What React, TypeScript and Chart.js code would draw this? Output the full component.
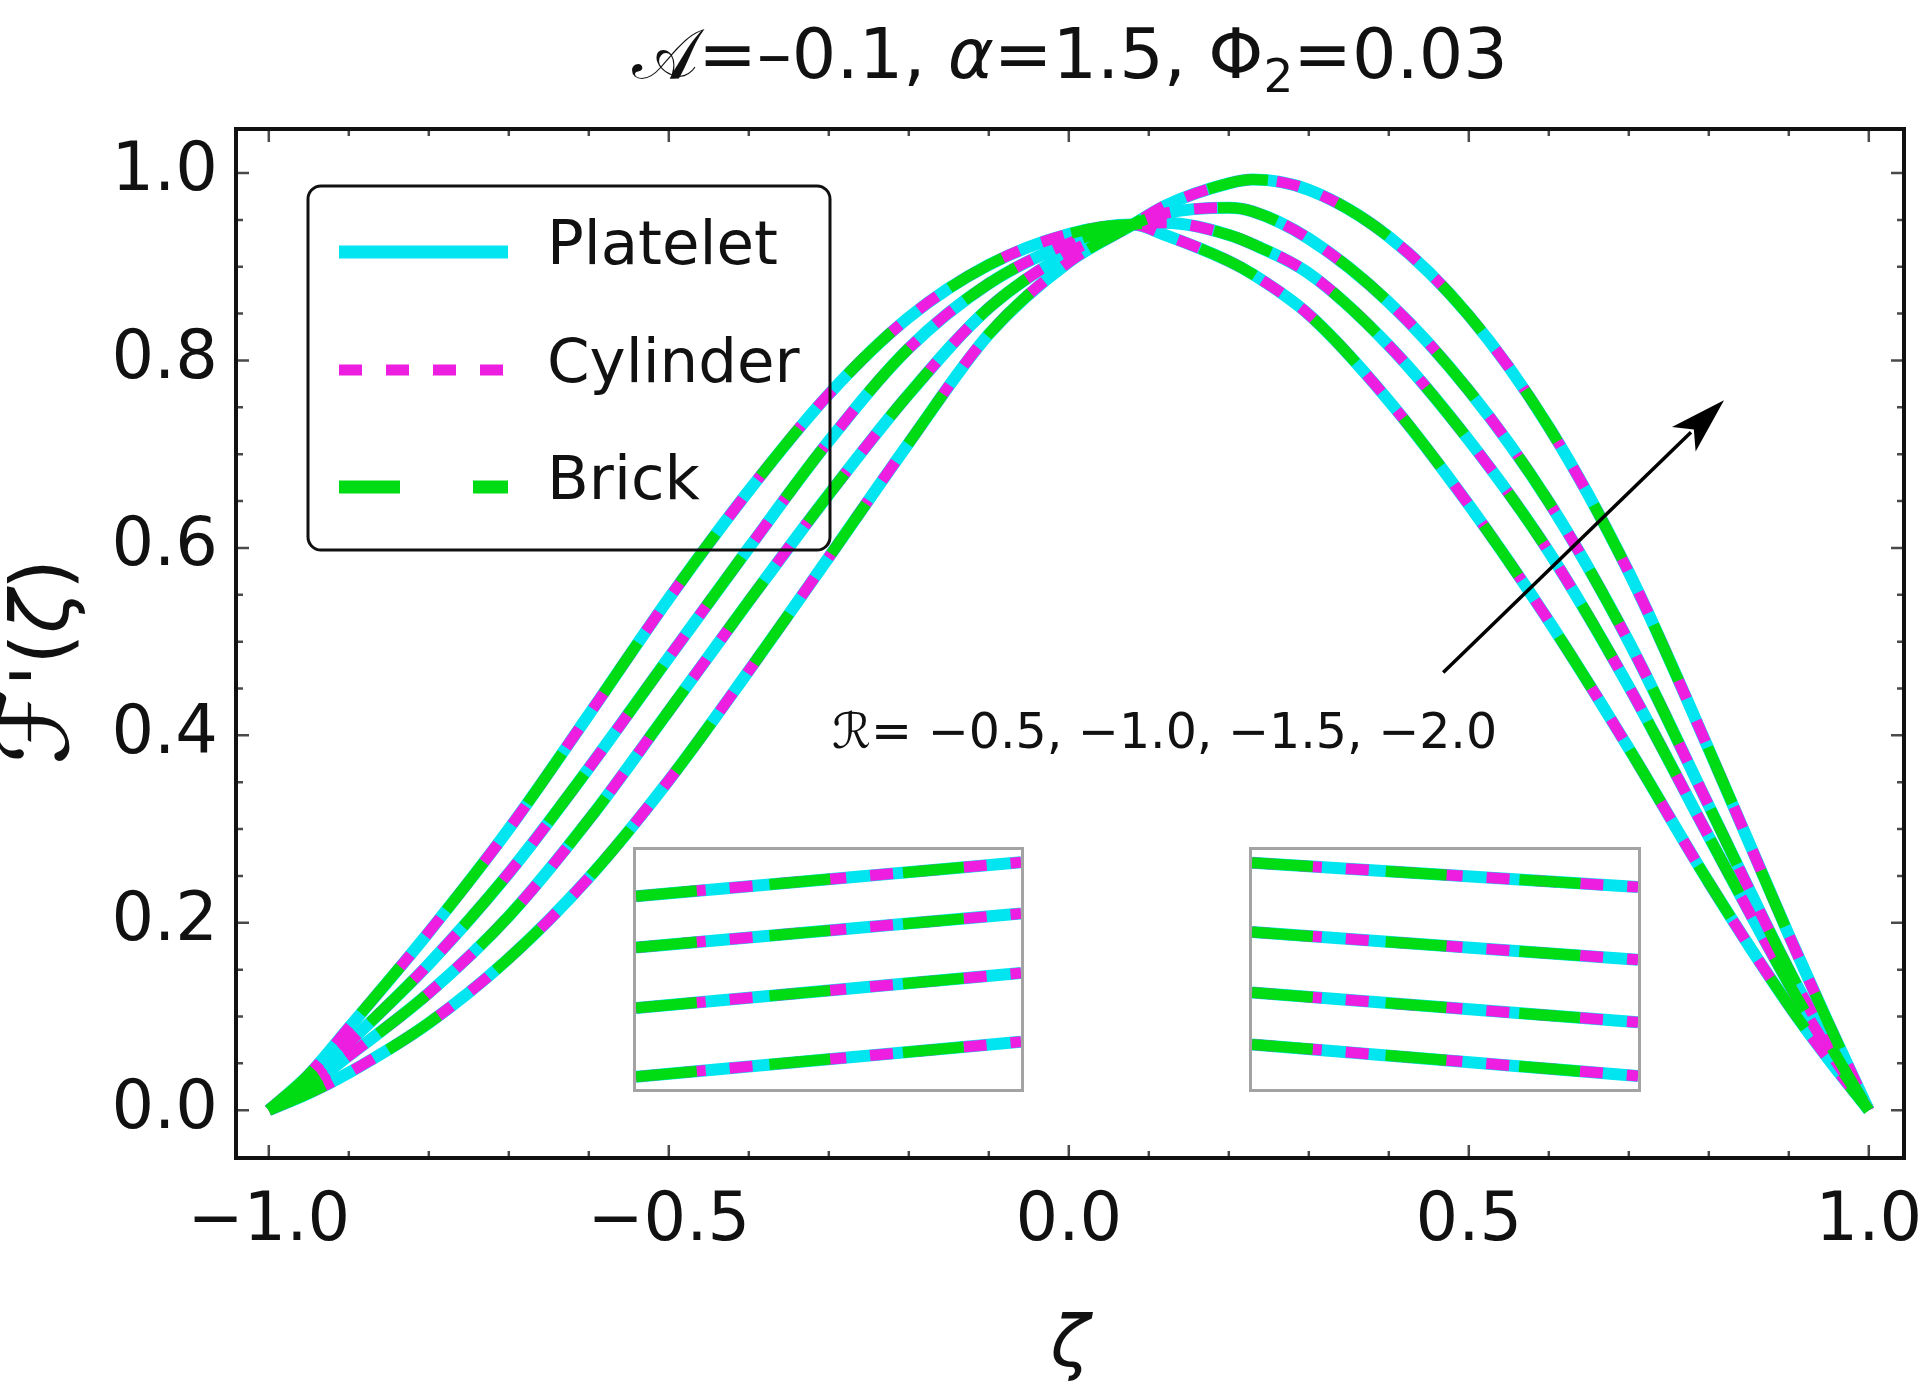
import { useEffect, useRef } from "react";
import { Chart, registerables } from "chart.js";

Chart.register(...registerables);

const W = 1928;
const H = 1394;
const FONT = '"DejaVu Sans", "Liberation Sans", sans-serif';

// sample positions along zeta
const zeta = [-1, -0.95, -0.9, -0.8, -0.7, -0.6, -0.5, -0.4, -0.3, -0.2, -0.1, 0, 0.08, 0.12, 0.2, 0.23, 0.3, 0.4, 0.5, 0.6, 0.7, 0.8, 0.9, 0.95, 1];

// F'(zeta), one list per R (the three shapes overlap)
const fR05 = [0, 0.038, 0.088, 0.19, 0.3, 0.422, 0.546, 0.661, 0.764, 0.846, 0.902, 0.935, 0.945, 0.934, 0.906, 0.892, 0.849, 0.757, 0.646, 0.522, 0.386, 0.243, 0.112, 0.054, 0];
const fR10 = [0, 0.032, 0.072, 0.156, 0.253, 0.365, 0.483, 0.6, 0.714, 0.813, 0.882, 0.925, 0.945, 0.947, 0.934, 0.924, 0.893, 0.816, 0.715, 0.596, 0.452, 0.292, 0.135, 0.064, 0];
const fR15 = [0, 0.026, 0.058, 0.125, 0.207, 0.31, 0.426, 0.543, 0.657, 0.764, 0.856, 0.915, 0.945, 0.957, 0.963, 0.959, 0.93, 0.862, 0.768, 0.649, 0.5, 0.325, 0.15, 0.072, 0];
const fR20 = [0, 0.018, 0.04, 0.093, 0.162, 0.248, 0.352, 0.469, 0.59, 0.712, 0.828, 0.905, 0.945, 0.965, 0.989, 0.993, 0.982, 0.932, 0.848, 0.729, 0.574, 0.385, 0.187, 0.092, 0];

const rValues = ["-0.5", "-1.0", "-1.5", "-2.0"];
const rSeries = [fR05, fR10, fR15, fR20];
const shapes = ["Platelet", "Cylinder", "Brick"];

// inset close-ups: F' at the left and right edge of each window, per R
const insetLeftStart = [0.765, 0.715, 0.656, 0.589];
const insetLeftEnd = [0.798, 0.748, 0.69, 0.623];
const insetRightStart = [0.6135, 0.664, 0.723, 0.7906];
const insetRightEnd = [0.5827, 0.635, 0.696, 0.7668];

const xTicks = [-1, -0.5, 0, 0.5, 1];
const yTicks = [0, 0.2, 0.4, 0.6, 0.8, 1];
const xMinor = [-1, -0.9, -0.8, -0.7, -0.6, -0.5, -0.4, -0.3, -0.2, -0.1, 0, 0.1, 0.2, 0.3, 0.4, 0.5, 0.6, 0.7, 0.8, 0.9, 1];
const yMinor = [0, 0.05, 0.1, 0.15, 0.2, 0.25, 0.3, 0.35, 0.4, 0.45, 0.5, 0.55, 0.6, 0.65, 0.7, 0.75, 0.8, 0.85, 0.9, 0.95, 1];

const xRange = [-1.041, 1.044];
const yRange = [-0.051, 1.047];

// annotation anchors in data units
const arrowFrom = [0.468, 0.467];
const arrowTo = [0.819, 0.7575];
const labelAt = [-0.296, 0.4];

// insets: where they sit on the main plot and the window they show
const insetLeftBox = { zeta: [-0.5445, -0.0558], f: [0.0192, 0.2808] };
const insetRightBox = { zeta: [0.2255, 0.7155], f: [0.0192, 0.2808] };
const insetLeftWindow = { zeta: [-0.315, -0.285], f: [0.577, 0.81] };
const insetRightWindow = { zeta: [0.539, 0.561], f: [0.57, 0.803] };

const shapeStyles: Record<string, { color: string; width: number; dash: number[]; order: number }> = {
  Platelet: { color: "#00e5ef", width: 12, dash: [], order: 2 },
  Cylinder: { color: "#ee1ee0", width: 11, dash: [23, 24], order: 1 },
  Brick: { color: "#00dc14", width: 11, dash: [61, 73], order: 0 },
};

function fmtTick(v: number) {
  const s = Math.abs(v).toFixed(1);
  return v < 0 ? "\u2212" + s : s;
}

function styleFor(shape: string) {
  const st = shapeStyles[shape];
  return {
    label: shape,
    order: st.order,
    borderColor: st.color,
    borderWidth: st.width,
    borderDash: st.dash,
    borderCapStyle: "butt",
    borderJoinStyle: "round",
    pointRadius: 0,
    fill: false,
  };
}

function makeDatasets() {
  const out: any[] = [];
  shapes.forEach((shape) => {
    rSeries.forEach((series, k) => {
      out.push({
        ...styleFor(shape),
        rLabel: rValues[k],
        data: zeta.map((z, i) => ({ x: z, y: series[i] })),
        cubicInterpolationMode: "monotone",
      });
    });
  });
  return out;
}

function makeInsetDatasets(win: { zeta: number[] }, starts: number[], ends: number[]) {
  const out: any[] = [];
  shapes.forEach((shape) => {
    starts.forEach((s, k) => {
      out.push({
        ...styleFor(shape),
        data: [
          { x: win.zeta[0], y: s },
          { x: win.zeta[1], y: ends[k] },
        ],
        tension: 0,
      });
    });
  });
  return out;
}

type Run = { text: string; font: string; dy?: number };

function runsWidth(ctx: CanvasRenderingContext2D, runs: Run[]) {
  let w = 0;
  for (const r of runs) {
    ctx.font = r.font;
    w += ctx.measureText(r.text).width;
  }
  return w;
}

function drawRuns(ctx: CanvasRenderingContext2D, runs: Run[], x: number, y: number) {
  let cx = x;
  for (const r of runs) {
    ctx.font = r.font;
    ctx.fillText(r.text, cx, y + (r.dy || 0));
    cx += ctx.measureText(r.text).width;
  }
}

const framePlugin = {
  id: "frame",
  afterDatasetsDraw(chart: any) {
    const { ctx, chartArea: ca, scales } = chart;
    const sx = scales.x;
    const sy = scales.y;
    ctx.save();
    ctx.strokeStyle = "#4a4a4a";
    ctx.lineWidth = 2.5;
    ctx.beginPath();
    xMinor.forEach((v) => {
      const px = sx.getPixelForValue(v);
      const len = xTicks.includes(v) ? 13 : 7;
      ctx.moveTo(px, ca.bottom);
      ctx.lineTo(px, ca.bottom - len);
      ctx.moveTo(px, ca.top);
      ctx.lineTo(px, ca.top + len);
    });
    yMinor.forEach((v) => {
      const py = sy.getPixelForValue(v);
      const len = yTicks.some((t) => Math.abs(t - v) < 1e-9) ? 13 : 7;
      ctx.moveTo(ca.left, py);
      ctx.lineTo(ca.left + len, py);
      ctx.moveTo(ca.right, py);
      ctx.lineTo(ca.right - len, py);
    });
    ctx.stroke();
    ctx.strokeStyle = "#111";
    ctx.lineWidth = 4;
    ctx.strokeRect(ca.left, ca.top, ca.right - ca.left, ca.bottom - ca.top);
    ctx.restore();
  },
};

const legendPlugin = {
  id: "boxLegend",
  afterDatasetsDraw(chart: any) {
    const { ctx, chartArea: ca } = chart;
    const bx = ca.left + 72;
    const by = ca.top + 57;
    const bw = 522;
    const bh = 364;
    ctx.save();
    ctx.strokeStyle = "#111";
    ctx.lineWidth = 3;
    ctx.beginPath();
    ctx.roundRect(bx, by, bw, bh, 13);
    ctx.stroke();
    const rows = [66, 184, 301];
    shapes.forEach((shape, i) => {
      const ds = chart.data.datasets.find((d: any) => d.label === shape);
      const y = by + rows[i];
      ctx.save();
      ctx.strokeStyle = ds.borderColor;
      ctx.lineWidth = shape === "Cylinder" ? 11 : 13;
      ctx.lineCap = "butt";
      ctx.setLineDash(ds.borderDash);
      ctx.beginPath();
      ctx.moveTo(bx + 31, y);
      ctx.lineTo(bx + 200, y);
      ctx.stroke();
      ctx.restore();
      ctx.fillStyle = "#111";
      ctx.font = `61px ${FONT}`;
      ctx.textBaseline = "alphabetic";
      ctx.textAlign = "left";
      ctx.fillText(shape, bx + 239, y + 12);
    });
    ctx.restore();
  },
};

const textPlugin = {
  id: "figureText",
  afterDraw(chart: any) {
    const { ctx, chartArea: ca, scales } = chart;
    const sx = scales.x;
    const sy = scales.y;
    ctx.save();
    ctx.fillStyle = "#111";
    ctx.textAlign = "left";
    ctx.textBaseline = "alphabetic";

    // title
    const tf = `70px ${FONT}`;
    const title: Run[] = [
      { text: "\u{1D49C}", font: tf },
      { text: "=\u20130.1, ", font: tf },
      { text: "\u03B1", font: `italic 70px ${FONT}` },
      { text: "=1.5, \u03A6", font: tf },
      { text: "2", font: `47px ${FONT}`, dy: 14 },
      { text: "=0.03", font: tf },
    ];
    const tw = runsWidth(ctx, title);
    drawRuns(ctx, title, (ca.left + ca.right) / 2 - tw / 2, 78);

    // x axis title
    const xr: Run[] = [{ text: "\u03B6", font: `italic 72px ${FONT}` }];
    const xw = runsWidth(ctx, xr);
    drawRuns(ctx, xr, (ca.left + ca.right) / 2 - xw / 2, 1366);

    // y axis title
    ctx.save();
    ctx.translate(68, 662);
    ctx.rotate(-Math.PI / 2);
    const yf = `80px ${FONT}`;
    const yr: Run[] = [
      { text: "\u2131", font: `100px ${FONT}` },
      { text: "'(", font: yf },
      { text: "\u03B6", font: `italic 80px ${FONT}` },
      { text: ")", font: yf },
    ];
    const yw = runsWidth(ctx, yr);
    drawRuns(ctx, yr, -yw / 2, 0);
    ctx.restore();

    // R annotation
    ctx.textBaseline = "middle";
    const af = `49px ${FONT}`;
    const ar: Run[] = [
      { text: "\u211B", font: af },
      { text: "= \u22120.5, \u22121.0, \u22121.5, \u22122.0", font: af },
    ];
    drawRuns(ctx, ar, sx.getPixelForValue(labelAt[0]), sy.getPixelForValue(labelAt[1]));

    // arrow
    const x0 = sx.getPixelForValue(arrowFrom[0]);
    const y0 = sy.getPixelForValue(arrowFrom[1]);
    const x1 = sx.getPixelForValue(arrowTo[0]);
    const y1 = sy.getPixelForValue(arrowTo[1]);
    const a = Math.atan2(y1 - y0, x1 - x0);
    const c = Math.cos(a);
    const s = Math.sin(a);
    const hl = 56;
    const hw = 17;
    const bxp = x1 - hl * c;
    const byp = y1 - hl * s;
    ctx.strokeStyle = "#000";
    ctx.lineWidth = 3.5;
    ctx.beginPath();
    ctx.moveTo(x0, y0);
    ctx.lineTo(bxp + 10 * c, byp + 10 * s);
    ctx.stroke();
    ctx.fillStyle = "#000";
    ctx.beginPath();
    ctx.moveTo(x1, y1);
    ctx.lineTo(bxp - hw * s, byp + hw * c);
    ctx.lineTo(bxp + 14 * c, byp + 14 * s);
    ctx.lineTo(bxp + hw * s, byp - hw * c);
    ctx.closePath();
    ctx.fill();
    ctx.restore();
  },
};

function insetConfig(win: { zeta: number[]; f: number[] }, starts: number[], ends: number[]): any {
  return {
    type: "line",
    data: { datasets: makeInsetDatasets(win, starts, ends) },
    options: {
      responsive: false,
      animation: false,
      events: [],
      layout: { padding: 0 },
      plugins: { legend: { display: false }, tooltip: { enabled: false } },
      scales: {
        x: { type: "linear", display: false, min: win.zeta[0], max: win.zeta[1] },
        y: { type: "linear", display: false, min: win.f[0], max: win.f[1] },
      },
    },
  };
}

export default function App() {
  const mainRef = useRef<HTMLCanvasElement>(null);
  const leftBoxRef = useRef<HTMLDivElement>(null);
  const leftRef = useRef<HTMLCanvasElement>(null);
  const rightBoxRef = useRef<HTMLDivElement>(null);
  const rightRef = useRef<HTMLCanvasElement>(null);

  useEffect(() => {
    document.body.style.margin = "0";
    document.body.style.overflow = "hidden";
    if (!mainRef.current) return;

    const tickFont = { family: FONT, size: 67 };
    const chart = new Chart(mainRef.current, {
      type: "line",
      data: { datasets: makeDatasets() },
      options: {
        responsive: false,
        animation: false,
        events: [],
        layout: { padding: { left: 0, right: 24, top: 129, bottom: 0 } },
        plugins: {
          legend: { display: false },
          tooltip: { enabled: false },
          title: { display: false },
        },
        scales: {
          x: {
            type: "linear",
            min: xRange[0],
            max: xRange[1],
            grid: { display: false, drawTicks: false },
            border: { display: false },
            afterFit: (s: any) => {
              s.height = 236;
              s.paddingLeft = 0;
              s.paddingRight = 0;
            },
            afterBuildTicks: (s: any) => {
              s.ticks = xTicks.map((v) => ({ value: v }));
            },
            ticks: {
              padding: 24,
              color: "#111",
              font: tickFont,
              maxRotation: 0,
              autoSkip: false,
              callback: (v: any) => fmtTick(Number(v)),
            },
          },
          y: {
            type: "linear",
            min: yRange[0],
            max: yRange[1],
            grid: { display: false, drawTicks: false },
            border: { display: false },
            afterFit: (s: any) => {
              s.width = 236;
              s.paddingTop = 0;
              s.paddingBottom = 0;
            },
            afterBuildTicks: (s: any) => {
              s.ticks = yTicks.map((v) => ({ value: v }));
            },
            ticks: {
              padding: 18,
              color: "#111",
              font: tickFont,
              autoSkip: false,
              callback: (v: any) => fmtTick(Number(v)),
            },
          },
        },
      } as any,
      plugins: [framePlugin, legendPlugin, textPlugin],
    });

    const charts: Chart[] = [chart];
    const sx: any = chart.scales.x;
    const sy: any = chart.scales.y;
    const place = (
      box: { zeta: number[]; f: number[] },
      div: HTMLDivElement | null,
      cv: HTMLCanvasElement | null,
      win: { zeta: number[]; f: number[] },
      starts: number[],
      ends: number[]
    ) => {
      if (!div || !cv) return;
      const l = sx.getPixelForValue(box.zeta[0]);
      const r = sx.getPixelForValue(box.zeta[1]);
      const t = sy.getPixelForValue(box.f[1]);
      const b = sy.getPixelForValue(box.f[0]);
      const bw = 3;
      div.style.left = `${l}px`;
      div.style.top = `${t}px`;
      div.style.width = `${r - l}px`;
      div.style.height = `${b - t}px`;
      cv.width = Math.round(r - l - 2 * bw);
      cv.height = Math.round(b - t - 2 * bw);
      charts.push(new Chart(cv, insetConfig(win, starts, ends)));
    };
    place(insetLeftBox, leftBoxRef.current, leftRef.current, insetLeftWindow, insetLeftStart, insetLeftEnd);
    place(insetRightBox, rightBoxRef.current, rightRef.current, insetRightWindow, insetRightStart, insetRightEnd);

    return () => {
      charts.forEach((c) => c.destroy());
    };
  }, []);

  const insetStyle: React.CSSProperties = {
    position: "absolute",
    boxSizing: "border-box",
    border: "3px solid #a3a3a3",
    background: "#fff",
  };

  return (
    <div style={{ position: "relative", width: W, height: H, background: "#fff", overflow: "hidden" }}>
      <canvas ref={mainRef} width={W} height={H} style={{ display: "block" }} />
      <div ref={leftBoxRef} style={insetStyle}>
        <canvas ref={leftRef} style={{ display: "block" }} />
      </div>
      <div ref={rightBoxRef} style={insetStyle}>
        <canvas ref={rightRef} style={{ display: "block" }} />
      </div>
    </div>
  );
}
